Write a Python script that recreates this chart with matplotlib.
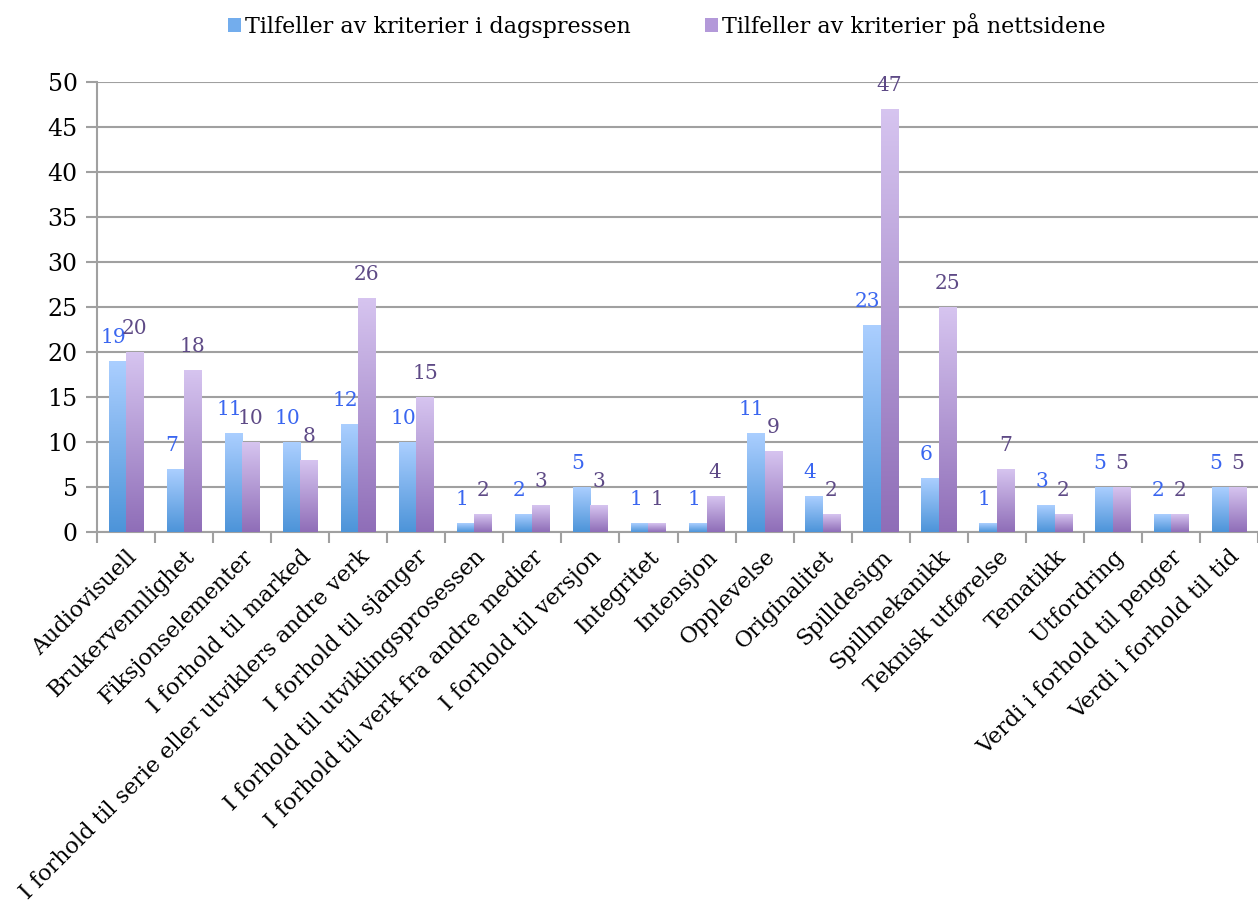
import matplotlib
matplotlib.use("Agg")
import matplotlib.pyplot as plt
import numpy as np
from matplotlib.patches import Patch

categories = ["Audiovisuell", "Brukervennlighet", "Fiksjonselementer", "I forhold til marked",
              "I forhold til serie eller utviklers andre verk", "I forhold til sjanger",
              "I forhold til utviklingsprosessen", "I forhold til verk fra andre medier",
              "I forhold til versjon", "Integritet", "Intensjon", "Opplevelse", "Originalitet",
              "Spilldesign", "Spillmekanikk", "Teknisk utførelse", "Tematikk", "Utfordring",
              "Verdi i forhold til penger", "Verdi i forhold til tid"]
dagspressen = [19, 7, 11, 10, 12, 10, 1, 2, 5, 1, 1, 11, 4, 23, 6, 1, 3, 5, 2, 5]
nettsidene = [20, 18, 10, 8, 26, 15, 2, 3, 3, 1, 4, 9, 2, 47, 25, 7, 2, 5, 2, 5]
series_names = ["Tilfeller av kriterier i dagspressen", "Tilfeller av kriterier på nettsidene"]
yticks = [0, 5, 10, 15, 20, 25, 30, 35, 40, 45, 50]

plt.rcParams['font.family'] = ['DejaVu Serif']

fig = plt.figure(figsize=(12.58, 9.11), dpi=100)
ax = fig.add_axes([97/1258, 1 - 532/911, (1258 - 97)/1258, (532 - 82)/911])

x = np.arange(len(categories))
w = 0.3
blue_top, blue_bot = np.array([0.67, 0.81, 1.0]), np.array([0.30, 0.58, 0.85])
purp_top, purp_bot = np.array([0.84, 0.77, 0.94]), np.array([0.56, 0.43, 0.72])

def grad(top, bot):
    t = np.linspace(0, 1, 256)[:, None]
    return (top[None, :] * (1 - t) + bot[None, :] * t)[:, None, :]

gb = grad(blue_top, blue_bot)
gp = grad(purp_top, purp_bot)

for xi, v in zip(x, dagspressen):
    ax.imshow(gb, extent=(xi - w, xi, 0, v), aspect='auto', zorder=3, interpolation='bilinear')
    ax.annotate(str(v), (xi - w / 2, v), xytext=(-3, 10), textcoords='offset points',
                ha='center', va='bottom', color='#3A66F0', fontsize=14.5, zorder=5)
for xi, v in zip(x, nettsidene):
    ax.imshow(gp, extent=(xi, xi + w, 0, v), aspect='auto', zorder=3, interpolation='bilinear')
    ax.annotate(str(v), (xi + w / 2, v), xytext=(0, 10), textcoords='offset points',
                ha='center', va='bottom', color='#5E4A86', fontsize=14.5, zorder=5)

ax.set_xlim(-0.5, len(categories) - 0.5)
ax.set_ylim(0, 50)
ax.set_yticks(yticks)
ax.set_yticklabels([str(t) for t in yticks], fontsize=17)
ax.yaxis.grid(True, color='#A0A0A0', linewidth=1.5, zorder=0)
ax.set_axisbelow(True)
ax.set_xticks(x)
ax.set_xticklabels(categories, rotation=45, ha='right', rotation_mode='anchor', fontsize=16)
ax.tick_params(axis='x', length=0, pad=10)
ax.set_xticks(np.arange(-0.5, len(categories), 1), minor=True)
ax.tick_params(axis='x', which='minor', length=8, color='#A0A0A0', width=1.5)
ax.tick_params(axis='y', length=8, color='#A0A0A0', width=1.5, pad=6)
for s in ['top', 'right']:
    ax.spines[s].set_visible(False)
for s in ['left', 'bottom']:
    ax.spines[s].set_color('#A0A0A0')
    ax.spines[s].set_linewidth(1.5)

handles = [Patch(facecolor=(0.45, 0.68, 0.93), edgecolor='none'),
           Patch(facecolor=(0.70, 0.60, 0.85), edgecolor='none')]
fig.legend(handles, series_names, loc='upper center', bbox_to_anchor=(0.53, 1.008), ncol=2,
           frameon=False, fontsize=16, handlelength=0.6, handleheight=0.6, handletextpad=0.2,
           columnspacing=3.3)

fig.savefig("out.png", dpi=100)
